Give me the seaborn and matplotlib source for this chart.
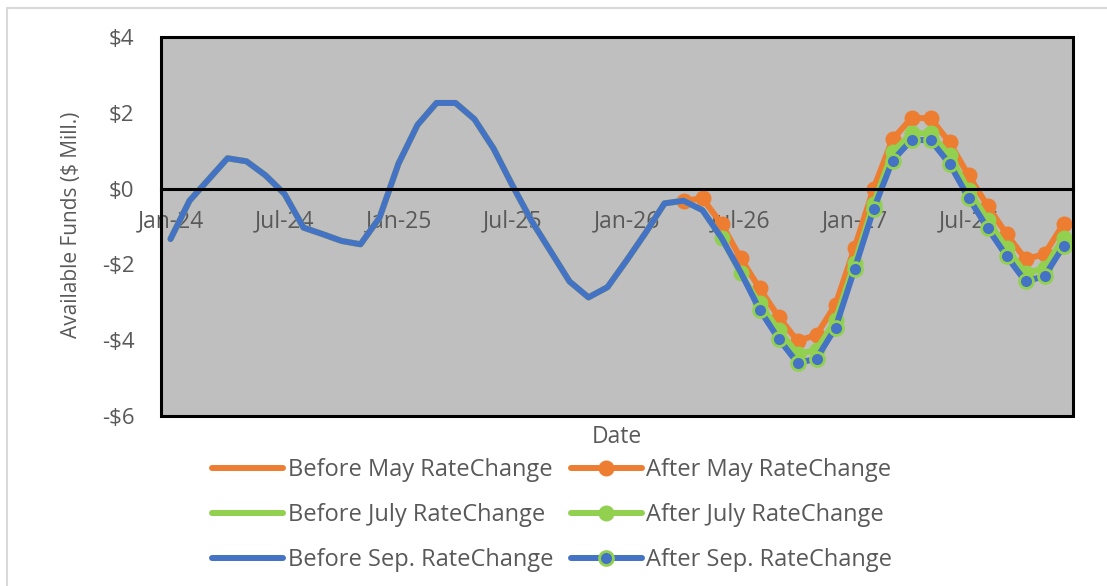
import matplotlib
matplotlib.use("Agg")
import matplotlib.pyplot as plt
from matplotlib.patches import Rectangle
import numpy as np
import pandas as pd
import seaborn as sns

# DATA (monthly, Jan-24 .. Dec-27)

months = pd.date_range("2024-01-01", "2027-12-01", freq="MS").strftime("%b-%y").tolist()

before_change = [-1.33, -0.32, 0.24, 0.80, 0.72, 0.35, -0.14, -1.03, -1.20, -1.38, -1.47, -0.77,
                 0.66, 1.68, 2.26, 2.26, 1.83, 1.06, 0.08, -0.85, -1.65, -2.45, -2.87, -2.60,
                 -1.90, -1.17, -0.39, -0.32, -0.57, -1.30, -2.20, -3.19]

after_may = [-0.32, -0.26, -0.93, -1.83, -2.63, -3.38, -4.02, -3.86, -3.06, -1.57, 0.00,
             1.30, 1.86, 1.86, 1.22, 0.35, -0.45, -1.20, -1.86, -1.73, -0.93]
after_july = [-1.30, -2.23, -3.03, -3.72, -4.36, -4.26, -3.46, -1.97, -0.40, 0.96,
              1.46, 1.46, 0.88, -0.03, -0.82, -1.57, -2.23, -2.10, -1.30]
after_sep = [-3.19, -3.96, -4.60, -4.49, -3.67, -2.13, -0.55, 0.74, 1.28, 1.28, 0.66,
             -0.24, -1.04, -1.78, -2.45, -2.31, -1.52]

before_may = before_change[:28]
before_july = before_change[:30]
before_sep = before_change[:32]

orange = "#ED7D31"
green = "#92D050"
blue = "#4472C4"
text_col = "#595959"

sns.set_style("white")
plt.rcParams["font.family"] = ["Open Sans", "DejaVu Sans"]

fig = plt.figure(figsize=(11.07, 5.86), dpi=100)
ax = fig.add_axes([161 / 1107, 1 - 416 / 586, 912 / 1107, 379 / 586])
ax.set_facecolor("#BFBFBF")


def series(vals, end_idx=None):
    n = len(vals)
    start = 48 - n if end_idx is None else 0
    return pd.DataFrame({"m": np.arange(start, start + n), "v": vals})


lw = 4.3
ms = 10
# Excel draws series in order, Sep series ends on top
sns.lineplot(data=series(before_may, 0), x="m", y="v", ax=ax, color=orange, lw=lw,
             label="Before May RateChange")
sns.lineplot(data=series(after_may), x="m", y="v", ax=ax, color=orange, lw=lw,
             marker="o", markersize=ms, markeredgecolor=orange, markeredgewidth=1.5,
             label="After May RateChange")
sns.lineplot(data=series(before_july, 0), x="m", y="v", ax=ax, color=green, lw=lw,
             label="Before July RateChange")
sns.lineplot(data=series(after_july), x="m", y="v", ax=ax, color=green, lw=lw,
             marker="o", markersize=ms, markeredgecolor=green, markeredgewidth=1.5,
             label="After July RateChange")
sns.lineplot(data=series(before_sep, 0), x="m", y="v", ax=ax, color=blue, lw=lw,
             label="Before Sep. RateChange")
sns.lineplot(data=series(after_sep), x="m", y="v", ax=ax, color=blue, lw=lw,
             marker="o", markersize=ms, markeredgecolor=green, markeredgewidth=2,
             label="After Sep. RateChange")

ax.set_xlim(-0.5, 47.5)
ax.set_ylim(-6, 4)

# axes: x axis crosses at zero, plot area has a black frame
for s in ["left", "right", "top"]:
    ax.spines[s].set_visible(False)
ax.spines["bottom"].set_position(("data", 0))
ax.spines["bottom"].set_linewidth(2.2)
ax.spines["bottom"].set_color("black")
ax.add_patch(Rectangle((0, 0), 1, 1, transform=ax.transAxes, fill=False,
                       edgecolor="black", lw=2.2, clip_on=False, zorder=5))

ax.set_xticks(np.arange(0, 48, 6))
ax.set_xticklabels([months[i] for i in range(0, 48, 6)])
ax.set_xticks(np.arange(-0.5, 48, 6), minor=True)
ax.tick_params(axis="x", which="major", length=0, pad=15, labelsize=16.5, labelcolor=text_col)
ax.tick_params(axis="x", which="minor", length=4, width=2, color="black", direction="out")

yt = np.arange(-6, 5, 2)
ax.set_yticks(yt)
ax.set_yticklabels([("-$%d" % -v) if v < 0 else ("$%d" % v) for v in yt])
ax.tick_params(axis="y", length=0, pad=19, labelsize=16, labelcolor=text_col)

ax.set_xlabel("")
ax.set_ylabel("")
fig.text(617 / 1107, 1 - 437 / 586, "Date", ha="center", va="center", fontsize=16.5, color=text_col)
fig.text(72 / 1107, 1 - 225 / 586, "Available Funds ($ Mill.)", ha="center", va="center",
         rotation=90, fontsize=15, color=text_col)

# legend 3 rows x 2 cols, row-wise order
handles, labels = ax.get_legend_handles_labels()
ax.get_legend().remove()
order = [0, 2, 4, 1, 3, 5]
fig.legend([handles[i] for i in order], [labels[i] for i in order], ncol=2,
           loc="upper left", bbox_to_anchor=(212 / 1107, 1 - 458 / 586), frameon=False,
           fontsize=17, labelcolor=text_col, handlelength=3.0, handletextpad=0.2,
           columnspacing=0.75, labelspacing=0.9, borderpad=0, borderaxespad=0)

# outer chart border
fig.patches.append(Rectangle((7 / 1107, -0.05), 1.1, 1 - 8 / 586 + 0.05, transform=fig.transFigure,
                             fill=False, edgecolor="#D9D9D9", lw=1.5))

fig.savefig("out.png", dpi=100)
